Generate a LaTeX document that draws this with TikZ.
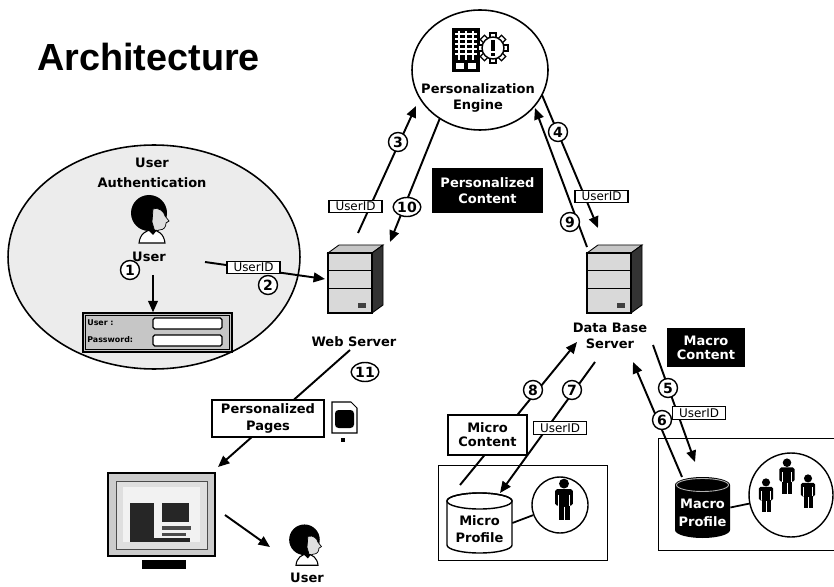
\documentclass[tikz,border=0pt]{standalone}
\usepackage{fontspec}
\setmainfont{DejaVu Sans}
\newfontfamily\arialfont{Liberation Sans}
\usetikzlibrary{arrows.meta,shapes.geometric,calc}

\tikzset{
  lbl/.style={font=\bfseries\fontsize{7.4}{9.3}\selectfont, align=center, inner sep=0pt},
  num/.style={draw, circle, line width=0.8pt, fill=white, inner sep=0pt,
    minimum size=0.38cm, font=\bfseries\fontsize{8}{8}\selectfont},
  numwide/.style={num, ellipse, minimum width=0.52cm, minimum height=0.38cm},
  uid/.style={draw, fill=white, line width=0.6pt, inner sep=0pt,
    minimum width=1.06cm, minimum height=0.25cm, font=\fontsize{6.8}{7}\selectfont},
  blk/.style={fill=black, text=white, inner sep=0pt, align=center,
    font=\bfseries\fontsize{7.4}{9}\selectfont},
  wbox/.style={draw, fill=white, line width=0.7pt, inner sep=0pt, align=center,
    font=\bfseries\fontsize{7.4}{9.3}\selectfont},
  arr/.style={line width=1.1pt, -{Triangle[length=6.5pt,width=5.5pt]}},
  link/.style={line width=1.1pt},
  pics/headicon/.style={code={
    % hair
    \fill[black] (-3,-5) ellipse [x radius=18, y radius=18];
    % face in profile
    \filldraw[fill=gray!25, draw=black, line width=0.4pt]
      (1,-9) .. controls (8,-11) and (12,-6) .. (13,-2) -- (17,3) -- (14,5)
      .. controls (14,9) and (12,12) .. (7,12) -- (3,14) -- (0,4) -- cycle;
    % shoulders
    \filldraw[fill=white, draw=black, line width=0.6pt]
      (-13,25) .. controls (-12,16) and (-6,12) .. (0,12)
      .. controls (6,12) and (12,16) .. (13,25) -- cycle;
    \fill[black] (-4,12) -- (5,12) -- (1,17) -- cycle;
  }},
  pics/personicon/.style={code={
    \fill[black] (0,-14) circle (4.5);
    \fill[black, rounded corners=1pt] (-8,-9) rectangle (8,6);
    \fill[black] (-5,5) rectangle (5,19);
    \draw[white, line width=0.5pt] (0,7) -- (0,19);
    \draw[white, line width=0.5pt] (-5,-4) -- (-5,6) (5,-4) -- (5,6);
  }},
  pics/servericon/.style={code={
    % top face
    \filldraw[fill=gray!45, draw=black, line width=0.5pt]
      (0,0) -- (11,-8) -- (55,-8) -- (44,0) -- cycle;
    % side face
    \filldraw[fill=black!80, draw=black, line width=0.5pt]
      (44,0) -- (55,-8) -- (55,52) -- (44,60) -- cycle;
    % front face with drive bays
    \filldraw[fill=gray!30, draw=black, line width=0.6pt] (0,0) rectangle (44,60);
    \draw[line width=0.5pt] (0,17) -- (44,17) (0,35) -- (44,35);
    \fill[black!75] (30,50) rectangle (38,55);
  }},
}

\begin{document}
\begin{tikzpicture}[x=0.02cm, y=-0.02cm]
\useasboundingbox (0,0) rectangle (834,587);
\clip (0,0) rectangle (834,587);

% ---------- title ----------
\node[anchor=base west, inner sep=0pt, font=\arialfont\bfseries\fontsize{21.5}{24}\selectfont]
  (title) at (37,71) {Architecture};

% ---------- personalization engine ----------
\node[draw, ellipse, line width=0.9pt, fill=white, inner sep=0pt,
  minimum width=2.72cm, minimum height=2.4cm] (engine) at (480,70) {};
% building
\fill[black] (452,28) rectangle (480,72);
\foreach \xx in {459,466,473} \draw[white, line width=0.7pt] (\xx,31) -- (\xx,60);
\foreach \yy in {34,39,44,49,54} \draw[white, line width=0.7pt] (455,\yy) -- (477,\yy);
\filldraw[fill=white, draw=black, line width=0.6pt] (455,62) rectangle (465,70);
\filldraw[fill=white, draw=black, line width=0.6pt] (467,62) rectangle (477,70);
% gear
\foreach \a in {0,45,...,315}
  \filldraw[fill=white, draw=black, line width=0.7pt, shift={(493,48)}, rotate=\a]
    (9,-3) rectangle (15,3);
\filldraw[fill=white, draw=black, line width=0.8pt] (493,48) circle (11);
\fill[black] (491,40) rectangle (495,51);
\fill[black] (491,53) rectangle (495,56);
\node[lbl, font=\bfseries\fontsize{7.4}{9.6}\selectfont] (enginelbl) at (478,98) {Personalization\\Engine};

% ---------- user authentication ----------
\node[draw, ellipse, line width=0.9pt, fill=gray!15, inner sep=0pt,
  minimum width=5.84cm, minimum height=4.48cm] (authzone) at (154,257) {};
\node[lbl, font=\bfseries\fontsize{7.4}{11}\selectfont] (authlbl) at (152,173) {User\\Authentication};
\pic (authhead) at (152,218) {headicon};
\node[lbl] (authuser) at (149,257) {User};
% login form
\node[draw, fill=gray!45, line width=0.8pt, inner sep=0pt,
  minimum width=2.98cm, minimum height=0.78cm] (login) at (157.5,332.5) {};
\draw[line width=0.4pt] ($(login.south west)+(3,-3)$) rectangle ($(login.north east)+(-3,3)$);
\node[draw, fill=white, rounded corners=1pt, line width=0.7pt, inner sep=0pt,
  minimum width=1.38cm, minimum height=0.22cm] (userfield) at (187.5,323.5) {};
\node[draw, fill=white, rounded corners=1pt, line width=0.7pt, inner sep=0pt,
  minimum width=1.38cm, minimum height=0.22cm] (passfield) at (187.5,340.5) {};
\node[anchor=west, inner sep=0pt, font=\bfseries\fontsize{4.5}{5}\selectfont] (userlbl) at (87,323) {User :};
\node[anchor=west, inner sep=0pt, font=\bfseries\fontsize{4.5}{5}\selectfont] (passlbl) at (87,340) {Password:};

% ---------- web server ----------
\pic (websrvicon) at (328,253) {servericon};
\node[inner sep=0pt, minimum width=0.88cm, minimum height=1.2cm] (websrv) at (350,283) {};
\node[lbl] (weblbl) at (354,342) {Web Server};

% ---------- data base server ----------
\pic (dbsrvicon) at (587,253) {servericon};
\node[inner sep=0pt, minimum width=0.88cm, minimum height=1.2cm] (dbsrv) at (609,283) {};
\node[lbl, font=\bfseries\fontsize{7.4}{9}\selectfont] (dblbl) at (610,336) {Data Base\\Server};

% ---------- content boxes ----------
\node[blk, minimum width=2.22cm, minimum height=0.9cm] (perscontent) at (487.5,190.5) {Personalized\\Content};
\node[blk, minimum width=1.56cm, minimum height=0.78cm, font=\bfseries\fontsize{7.4}{7.8}\selectfont]
  (macrocontent) at (706,347.5) {Macro\\Content};

% ---------- micro profile ----------
\node[draw, line width=0.8pt, anchor=north west, inner sep=0pt,
  minimum width=3.38cm, minimum height=1.9cm] (microbox) at (438,465) {};
\filldraw[fill=white, draw=black, line width=0.8pt]
  (447,501) -- (447,545) arc[start angle=180, end angle=0, x radius=32.5, y radius=8]
  -- (512,501) arc[start angle=0, end angle=-180, x radius=32.5, y radius=8] -- cycle;
\draw[line width=0.8pt] (479.5,501) ellipse [x radius=32.5, y radius=8];
\node[inner sep=0pt, minimum width=1.3cm, minimum height=1.2cm] (microcyl) at (479.5,523) {};
\node[lbl, font=\bfseries\fontsize{7.4}{10}\selectfont] (microlbl) at (479.5,529) {Micro\\Profile};
\node[draw, circle, line width=0.8pt, inner sep=0pt, minimum size=1.12cm] (microppl) at (560,505) {};
\pic[scale=1.1] (microperson) at (564,499) {personicon};
\draw[line width=1pt] (microcyl.east) -- (microppl);

% ---------- macro profile ----------
\node[draw, line width=0.8pt, anchor=north west, inner sep=0pt,
  minimum width=3.9cm, minimum height=2.24cm] (macrobox) at (658,438) {};
\fill[black]
  (675,485) -- (675,530) arc[start angle=180, end angle=0, x radius=27.5, y radius=8]
  -- (730,485) arc[start angle=0, end angle=-180, x radius=27.5, y radius=8] -- cycle;
\draw[gray!60, line width=0.5pt] (702.5,485) ellipse [x radius=26, y radius=6.5];
\node[inner sep=0pt, minimum width=1.1cm, minimum height=1.22cm] (macrocyl) at (702.5,507.5) {};
\node[lbl, text=white, font=\bfseries\fontsize{7.4}{10.5}\selectfont] (macrolbl) at (702.5,513) {Macro\\Profile};
\node[draw, circle, line width=0.8pt, inner sep=0pt, minimum size=1.68cm] (macroppl) at (791,495) {};
\pic[scale=0.9] (macroperson1) at (766,495) {personicon};
\pic[scale=0.95] (macroperson2) at (787,476) {personicon};
\pic[scale=0.9] (macroperson3) at (808,491) {personicon};
\draw[line width=1pt] (macrocyl.east) -- (macroppl);

% ---------- client side ----------
\node[draw, fill=gray!40, line width=1pt, inner sep=0pt,
  minimum width=2.14cm, minimum height=1.66cm] (monitor) at (161.5,514.5) {};
\filldraw[fill=gray!25, draw=black!70, line width=0.5pt] (116,481) rectangle (207,549);
\fill[gray!10] (123,487) rectangle (200,542);
\fill[black!85] (130,503) rectangle (154,538);
\fill[black!85] (162,503) rectangle (189,522);
\fill[black!70] (162,526) rectangle (191,530);
\fill[black!70] (162,533) rectangle (186,536);
\fill[black!85] (130,538) rectangle (190,542);
\fill[black] (142,560) rectangle (186,569);
\pic[scale=0.85] (clienthead) at (307,544) {headicon};
\node[lbl] (clientuser) at (307,578) {User};

% page icon
\filldraw[fill=white, draw=black, line width=0.6pt]
  (332,402) -- (351,402) -- (357,408) -- (357,433) -- (332,433) -- cycle;
\fill[black, rounded corners=2pt] (335,410) rectangle (354,428);
\fill[black] (341,438) rectangle (345,442);

% ---------- connector end points ----------
\coordinate (a1s) at (153,275);
\coordinate (a2s) at (205,262);
\coordinate (a2e) at (325,279);
\coordinate (a3s) at (358,233);
\coordinate (a3e) at (416,106);
\coordinate (a10s) at (440,118);
\coordinate (a10e) at (390,242);
\coordinate (a4s) at (542,95);
\coordinate (a4e) at (598,228);
\coordinate (a9s) at (587,247);
\coordinate (a9e) at (535,108);
\coordinate (a5s) at (653,345);
\coordinate (a5e) at (695,462);
\coordinate (a6s) at (682,477);
\coordinate (a6e) at (633,362);
\coordinate (a7s) at (595,362);
\coordinate (a7e) at (500,493);
\coordinate (a8s) at (460,485);
\coordinate (a8e) at (577,342);
\coordinate (a11s) at (350,350);
\coordinate (a11e) at (218,467);
\coordinate (a12s) at (225,515);
\coordinate (a12e) at (270,547);

% ---------- connectors ----------
\draw[arr] (a1s) -- (a1s |- login.north);
\draw[arr] (a2s) -- (a2e);
\draw[arr] (a3s) -- (a3e);
\draw[arr] (a10s) -- (a10e);
\draw[arr] (a4s) -- (a4e);
\draw[arr] (a9s) -- (a9e);
\draw[arr] (a5s) -- (a5e);
\draw[arr] (a6s) -- (a6e);
\draw[arr] (a7s) -- (a7e);
\draw[arr] (a8s) -- (a8e);
\draw[arr] (a11s) -- (a11e);
\draw[arr] (a12s) -- (a12e);

% ---------- labels on connectors ----------
\node[uid] (uid2) at (253.5,267.5) {UserID};
\node[uid] (uid3) at (355.5,206.5) {UserID};
\node[uid] (uid4) at (601.5,196.5) {UserID};
\node[uid] (uid5) at (699,413) {UserID};
\node[uid] (uid7) at (560,428) {UserID};
\node[wbox, minimum width=2.24cm, minimum height=0.74cm] (perspages) at (268,418.5) {Personalized\\Pages};
\node[wbox, minimum width=1.58cm, minimum height=0.8cm, font=\bfseries\fontsize{7.4}{8}\selectfont]
  (microcontent) at (487.5,435) {Micro\\Content};

% ---------- step numbers ----------
\node[num] (n1) at (130,270) {1};
\node[num] (n2) at (268,285) {2};
\node[num] (n3) at (398,142) {3};
\node[num] (n4) at (558,132) {4};
\node[num] (n5) at (668,388) {5};
\node[num] (n6) at (662,420) {6};
\node[num] (n7) at (572,390) {7};
\node[num] (n8) at (533,390) {8};
\node[num] (n9) at (570,222) {9};
\node[numwide] (n10) at (407,207) {10};
\node[numwide] (n11) at (365,372) {11};

\end{tikzpicture}
\end{document}
